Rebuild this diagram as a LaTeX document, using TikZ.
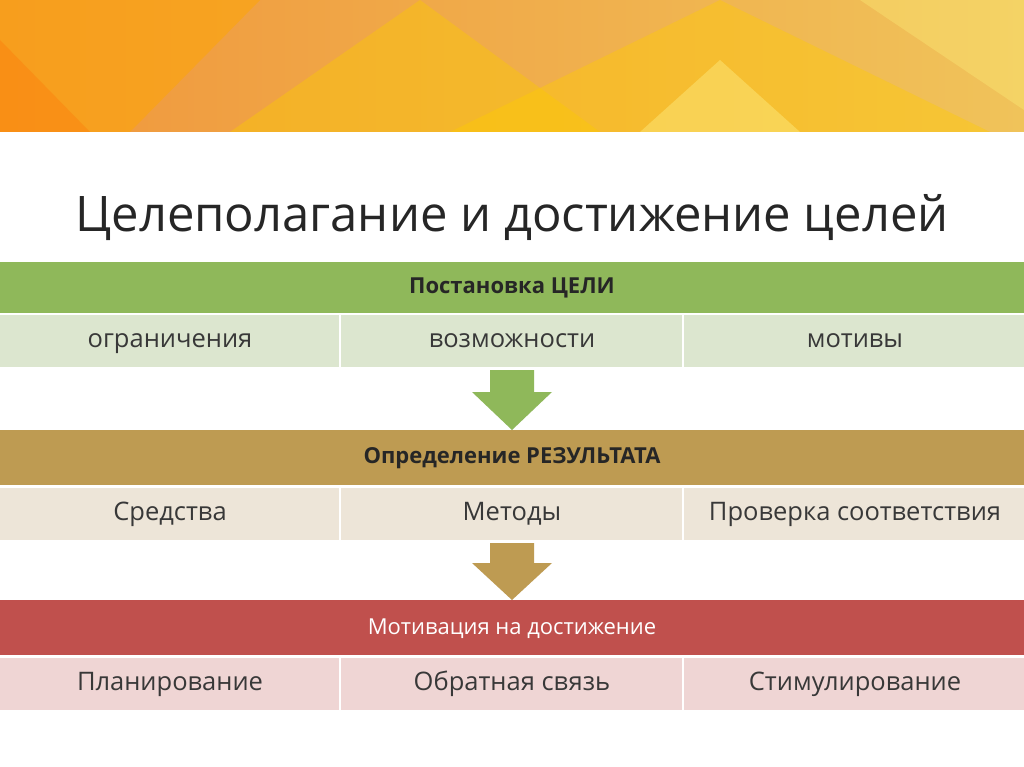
\documentclass[tikz,border=0pt]{standalone}
\usepackage{fontspec}
\setmainfont{Open Sans}
\begin{document}
\begin{tikzpicture}[x=1pt,y=-1pt,
 hdr/.style={font=\fontsize{22}{24}\selectfont\bfseries,text=black!85,text height=15pt,text depth=4pt},
 cell/.style={font=\fontsize{25.5}{28}\selectfont,text=black!78,text height=18pt,text depth=5pt},
 sep/.style={white,line width=2pt}]
\definecolor{gA}{HTML}{8FB85A}\definecolor{gB}{HTML}{DCE6CF}
\definecolor{bA}{HTML}{BE9B52}\definecolor{bB}{HTML}{EDE5D8}
\definecolor{rA}{HTML}{C0504D}\definecolor{rB}{HTML}{EFD5D4}
\useasboundingbox (0,0) rectangle (1024,767);
\fill[white] (0,0) rectangle (1024,767);
% banner
\fill[left color={rgb,255:red,240;green,150;blue,60},right color={rgb,255:red,240;green,195;blue,90}] (0,0) rectangle (1024,132);
\fill[orange!70!yellow,opacity=.5] (0,0) -- (260,0) -- (130,132) -- (0,132) -- cycle;
\fill[yellow!60!orange,opacity=.45] (230,132) -- (420,0) -- (600,132) -- cycle;
\fill[orange!40!yellow,opacity=.4] (450,132) -- (720,0) -- (990,132) -- cycle;
\fill[yellow!40!white,opacity=.35] (640,132) -- (720,60) -- (800,132) -- cycle;
\fill[orange!80!red,opacity=.25] (0,40) -- (90,132) -- (0,132) -- cycle;
\fill[yellow!50!white,opacity=.3] (860,0) -- (1024,0) -- (1024,110) -- cycle;
% title
\node[text=black!85] (title) at (512,218) {\fontsize{49}{56}\selectfont Целеполагание и достижение целей};
% green
\fill[gA] (0,262) rectangle (1024,313); \node[hdr] (h1) at (512,288) {Постановка ЦЕЛИ};
\fill[gB] (0,315) rectangle (1024,367);
\draw[sep] (340,315)--(340,367) (683,315)--(683,367);
\node[cell] (a1) at (170,341) {ограничения};
\node[cell] (a2) at (512,341) {возможности};
\node[cell] (a3) at (855,341) {мотивы};
\fill[gA] (490,370) -- (534,370) -- (534,392) -- (552,392) -- (512,430) -- (472,392) -- (490,392) -- cycle;
% brown
\fill[bA] (0,430) rectangle (1024,485); \node[hdr] (h2) at (512,458) {Определение РЕЗУЛЬТАТА};
\fill[bB] (0,488) rectangle (1024,540);
\draw[sep] (340,488)--(340,540) (683,488)--(683,540);
\node[cell] (b1) at (170,514) {Средства};
\node[cell] (b2) at (512,514) {Методы};
\node[cell] (b3) at (855,514) {Проверка соответствия};
\fill[bA] (490,543) -- (534,543) -- (534,563) -- (552,563) -- (512,600) -- (472,563) -- (490,563) -- cycle;
% red
\fill[rA] (0,600) rectangle (1024,655); \node[font=\fontsize{22}{24}\selectfont,text=white,text height=15pt,text depth=4pt] (h3) at (512,629) {Мотивация на достижение};
\fill[rB] (0,658) rectangle (1024,710);
\draw[sep] (340,658)--(340,710) (683,658)--(683,710);
\node[cell] (c1) at (170,684) {Планирование};
\node[cell] (c2) at (512,684) {Обратная связь};
\node[cell] (c3) at (855,684) {Стимулирование};
\end{tikzpicture}
\end{document}
